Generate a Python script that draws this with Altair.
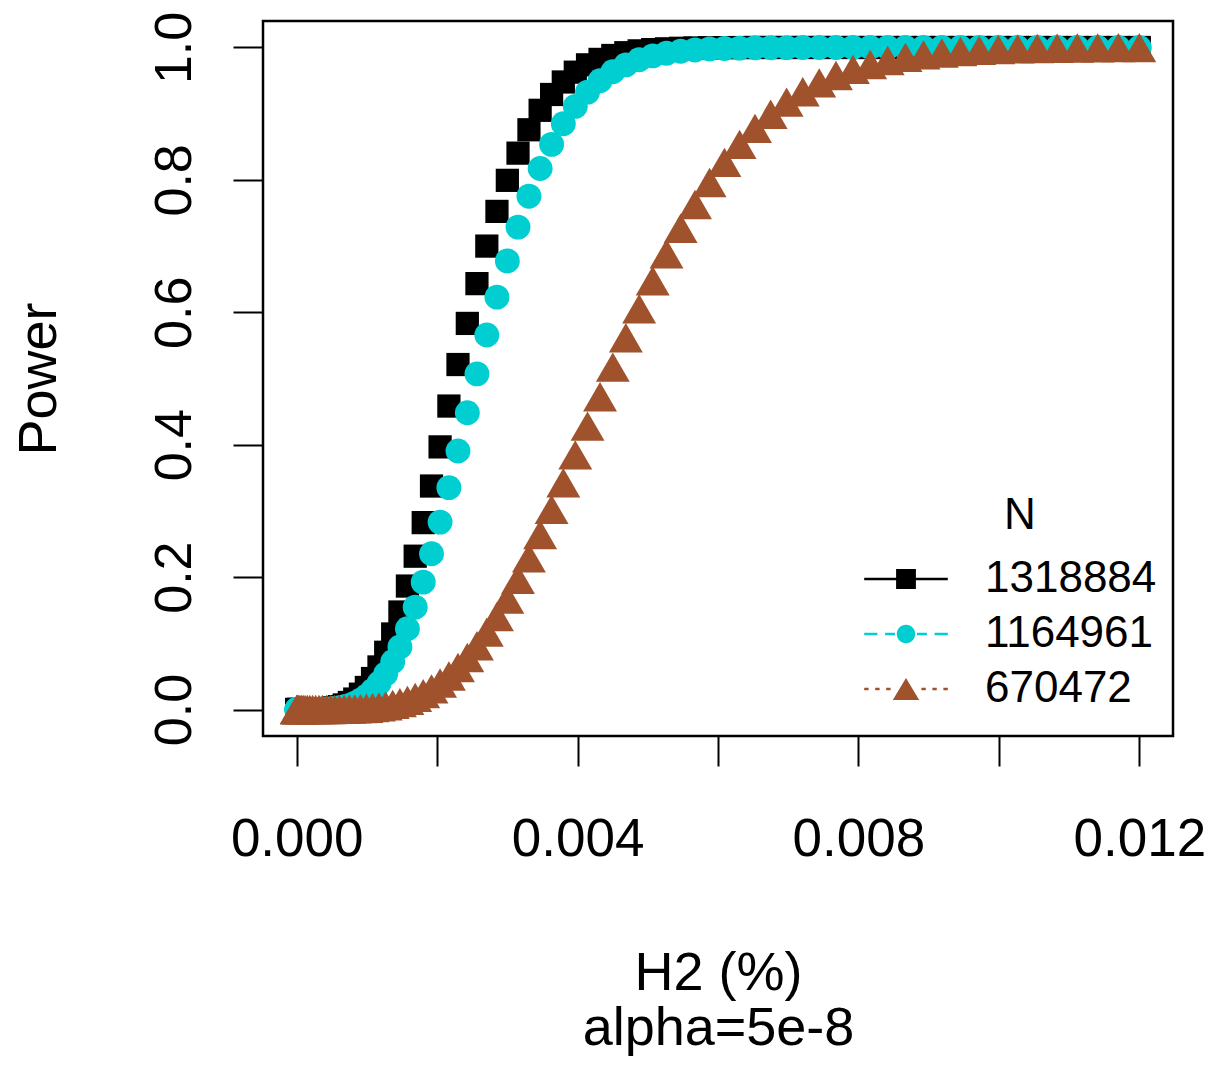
import altair as alt
import pandas as pd

# ---------------- data ----------------
SERIES = ["1318884", "1164961", "670472"]
COLORS = ["#000000", "#00CED1", "#A0522D"]

H2 = [0.0, 0.0000019, 0.0000075, 0.0000169, 0.00003, 0.0000469, 0.0000675, 0.0000919,
      0.00012, 0.0001519, 0.0001875, 0.0002269, 0.00027, 0.0003169, 0.0003675, 0.0004219,
      0.00048, 0.0005419, 0.0006075, 0.0006769, 0.00075, 0.0008269, 0.0009075, 0.0009919,
      0.00108, 0.0011719, 0.0012675, 0.0013669, 0.00147, 0.0015769, 0.0016875, 0.0018019,
      0.00192, 0.0020419, 0.0021675, 0.0022969, 0.00243, 0.0025669, 0.0027075, 0.0028519,
      0.003, 0.0031519, 0.0033075, 0.0034669, 0.00363, 0.0037969, 0.0039675, 0.0041419,
      0.00432, 0.0045019, 0.0046875, 0.0048769, 0.00507, 0.0052669, 0.0054675, 0.0056719,
      0.00588, 0.0060919, 0.0063075, 0.0065269, 0.00675, 0.0069769, 0.0072075, 0.0074419,
      0.00768, 0.0079219, 0.0081675, 0.0084169, 0.00867, 0.0089269, 0.0091875, 0.0094519,
      0.00972, 0.0099919, 0.0102675, 0.0105469, 0.01083, 0.0111169, 0.0114075, 0.0117019,
      0.012]

POWER_1318884 = [0, 0, 0, 0, 0, 0, 0, 0, 0, 0, 0,
                 0.0001, 0.0002, 0.0003, 0.0006, 0.0010, 0.0017, 0.0027, 0.0044, 0.0069,
                 0.0106, 0.0158, 0.0232, 0.0333, 0.0468, 0.0643, 0.0865, 0.1141, 0.1473,
                 0.1865, 0.2316, 0.2823, 0.3376, 0.3967, 0.4584, 0.5211, 0.5832, 0.6433,
                 0.7000, 0.7524, 0.7993, 0.8404, 0.8757, 0.9051, 0.9290, 0.9479, 0.9627,
                 0.9738, 0.9820, 0.9879, 0.9921, 0.9949, 0.9968, 0.9980, 0.9988, 0.9993,
                 0.9996, 0.9998, 0.9999,
                 1, 1, 1, 1, 1, 1, 1, 1, 1, 1, 1, 1, 1, 1, 1, 1, 1, 1, 1, 1, 1, 1]

POWER_1164961 = [0, 0, 0, 0, 0, 0, 0, 0, 0, 0, 0, 0,
                 0.0001, 0.0002, 0.0004, 0.0006, 0.0010, 0.0017, 0.0026, 0.0041, 0.0063,
                 0.0095, 0.0139, 0.0201, 0.0285, 0.0396, 0.0539, 0.0721, 0.0946, 0.1220,
                 0.1546, 0.1924, 0.2353, 0.2831, 0.3351, 0.3905, 0.4482, 0.5070, 0.5657,
                 0.6229, 0.6776, 0.7287, 0.7754, 0.8171, 0.8536, 0.8849, 0.9111, 0.9326,
                 0.9498, 0.9634, 0.9737, 0.9815, 0.9873, 0.9914, 0.9943, 0.9963, 0.9976,
                 0.9985, 0.9991, 0.9995, 0.9997, 0.9998, 0.9999,
                 1, 1, 1, 1, 1, 1, 1, 1, 1, 1, 1, 1, 1, 1, 1, 1, 1, 1]

POWER_670472 = [0, 0, 0, 0, 0, 0, 0, 0, 0, 0, 0, 0, 0, 0,
                0.0001, 0.0001, 0.0001, 0.0002, 0.0003, 0.0004, 0.0007, 0.0010, 0.0014,
                0.0020, 0.0029, 0.0040, 0.0056, 0.0077, 0.0104, 0.0139, 0.0184, 0.0241,
                0.0312, 0.0400, 0.0506, 0.0634, 0.0785, 0.0963, 0.1170, 0.1405, 0.1670,
                0.1966, 0.2290, 0.2644, 0.3023, 0.3425, 0.3846, 0.4280, 0.4724, 0.5171,
                0.5616, 0.6053, 0.6477, 0.6884, 0.7269, 0.7629, 0.7961, 0.8264, 0.8536,
                0.8778, 0.8991, 0.9175, 0.9332, 0.9466, 0.9577, 0.9669, 0.9743, 0.9803,
                0.9851, 0.9889, 0.9917, 0.9940, 0.9956, 0.9969, 0.9978, 0.9985, 0.9989,
                0.9993, 0.9995, 0.9997, 0.9998]

X_TICKS = [0.0, 0.002, 0.004, 0.006, 0.008, 0.010, 0.012]
Y_TICKS = [0.0, 0.2, 0.4, 0.6, 0.8, 1.0]
X_TITLE = ["H2 (%)", "alpha=5e-8"]
Y_TITLE = "Power"
LEGEND_TITLE = "N"

# legend glyphs: line style + marker (R-style legend keys)
LEGEND_PATHS = [
    "M-1.9,-0.06H1.9V0.06H-1.9Z M-0.45,-0.45H0.45V0.45H-0.45Z",
    "M-1.9,-0.06H-1.3V0.06H-1.9Z M-0.95,-0.06H-0.5V0.06H-0.95Z "
    "M0.5,-0.06H0.95V0.06H0.5Z M1.3,-0.06H1.9V0.06H1.3Z "
    "M0.42,0A0.42,0.42 0 1,1 -0.42,0A0.42,0.42 0 1,1 0.42,0Z",
    "M-1.9,-0.06H-1.7V0.06H-1.9Z M-1.4,-0.06H-1.2V0.06H-1.4Z M-0.9,-0.06H-0.7V0.06H-0.9Z "
    "M0.7,-0.06H0.9V0.06H0.7Z M1.2,-0.06H1.4V0.06H1.2Z M1.7,-0.06H1.9V0.06H1.7Z "
    "M0,-0.5L0.6,0.5H-0.6Z",
]

assert len(H2) == len(POWER_1318884) == len(POWER_1164961) == len(POWER_670472)

rows = []
for name, ys in zip(SERIES, [POWER_1318884, POWER_1164961, POWER_670472]):
    for x, y in zip(H2, ys):
        rows.append({"N": name, "h2": x, "power": y})
df = pd.DataFrame(rows)

FONT = "Liberation Sans"

xscale = alt.Scale(domain=[-0.00048, 0.01248], nice=False, zero=False)
yscale = alt.Scale(domain=[-0.04, 1.04], nice=False, zero=False)

xaxis = alt.Axis(
    values=X_TICKS,
    labelExpr="(abs(datum.value*250 - round(datum.value*250)) < 0.001) ? format(datum.value, '.3f') : ''",
    grid=False, domain=False, ticks=True, tickSize=30, tickWidth=2, tickColor="black",
    labelFont=FONT, labelFontSize=53, labelColor="black", labelPadding=89,
    labelBaseline="alphabetic", labelOverlap=False, labelFlush=False,
    titleFont=FONT, titleFontSize=54, titleFontWeight="normal", titleColor="black",
    titleBaseline="top", titleY=210, titleLineHeight=55,
)
yaxis = alt.Axis(
    values=Y_TICKS, format=".1f",
    grid=False, domain=False, ticks=True, tickSize=30, tickWidth=2, tickColor="black",
    labelFont=FONT, labelFontSize=52, labelColor="black", labelPadding=43,
    labelAngle=-90, labelAlign="center", labelBaseline="alphabetic",
    labelOverlap=False, labelFlush=False,
    titleFont=FONT, titleFontSize=54, titleFontWeight="normal", titleColor="black",
    titleAngle=270, titleBaseline="alphabetic", titleAlign="center",
    titleX=-208, titleY=357.5,
)

base = alt.Chart(df).encode(
    x=alt.X("h2:Q", scale=xscale, axis=xaxis, title=X_TITLE),
    y=alt.Y("power:Q", scale=yscale, axis=yaxis, title=Y_TITLE),
)

black = base.transform_filter(alt.datum.N == SERIES[0]).mark_point(
    shape="square", filled=True, size=540, color=COLORS[0], opacity=1, strokeWidth=0)
cyan = base.transform_filter(alt.datum.N == SERIES[1]).mark_point(
    shape="circle", filled=True, size=620, color=COLORS[1], opacity=1, strokeWidth=0)
brown = base.transform_filter(alt.datum.N == SERIES[2]).mark_point(
    shape="triangle-up", filled=True, size=1150, color=COLORS[2], opacity=1, strokeWidth=0)

leg = alt.Legend(
    title=LEGEND_TITLE, orient="none", legendX=621, legendY=473,
    titleFont=FONT, titleFontSize=44, titleFontWeight="normal", titleColor="black",
    titleAnchor="middle", titlePadding=19,
    labelFont=FONT, labelFontSize=44, labelColor="black", labelOffset=57, labelLimit=500,
    symbolSize=1936, symbolOpacity=1, symbolStrokeWidth=0, rowPadding=11, padding=0,
)

legend_layer = base.mark_point(filled=True, opacity=0).encode(
    color=alt.Color("N:N", scale=alt.Scale(domain=SERIES, range=COLORS), legend=leg),
    shape=alt.Shape("N:N", scale=alt.Scale(domain=SERIES, range=LEGEND_PATHS), legend=leg),
)

chart = alt.layer(black, cyan, brown, legend_layer).properties(
    width=910, height=715,
    padding={"left": 255, "top": 13, "right": 40, "bottom": 322},
    autosize=alt.AutoSizeParams(type="none"),
).configure_view(stroke="black", strokeWidth=2.5)

chart.save("out.html", embed_options={"renderer": "svg", "actions": False})
